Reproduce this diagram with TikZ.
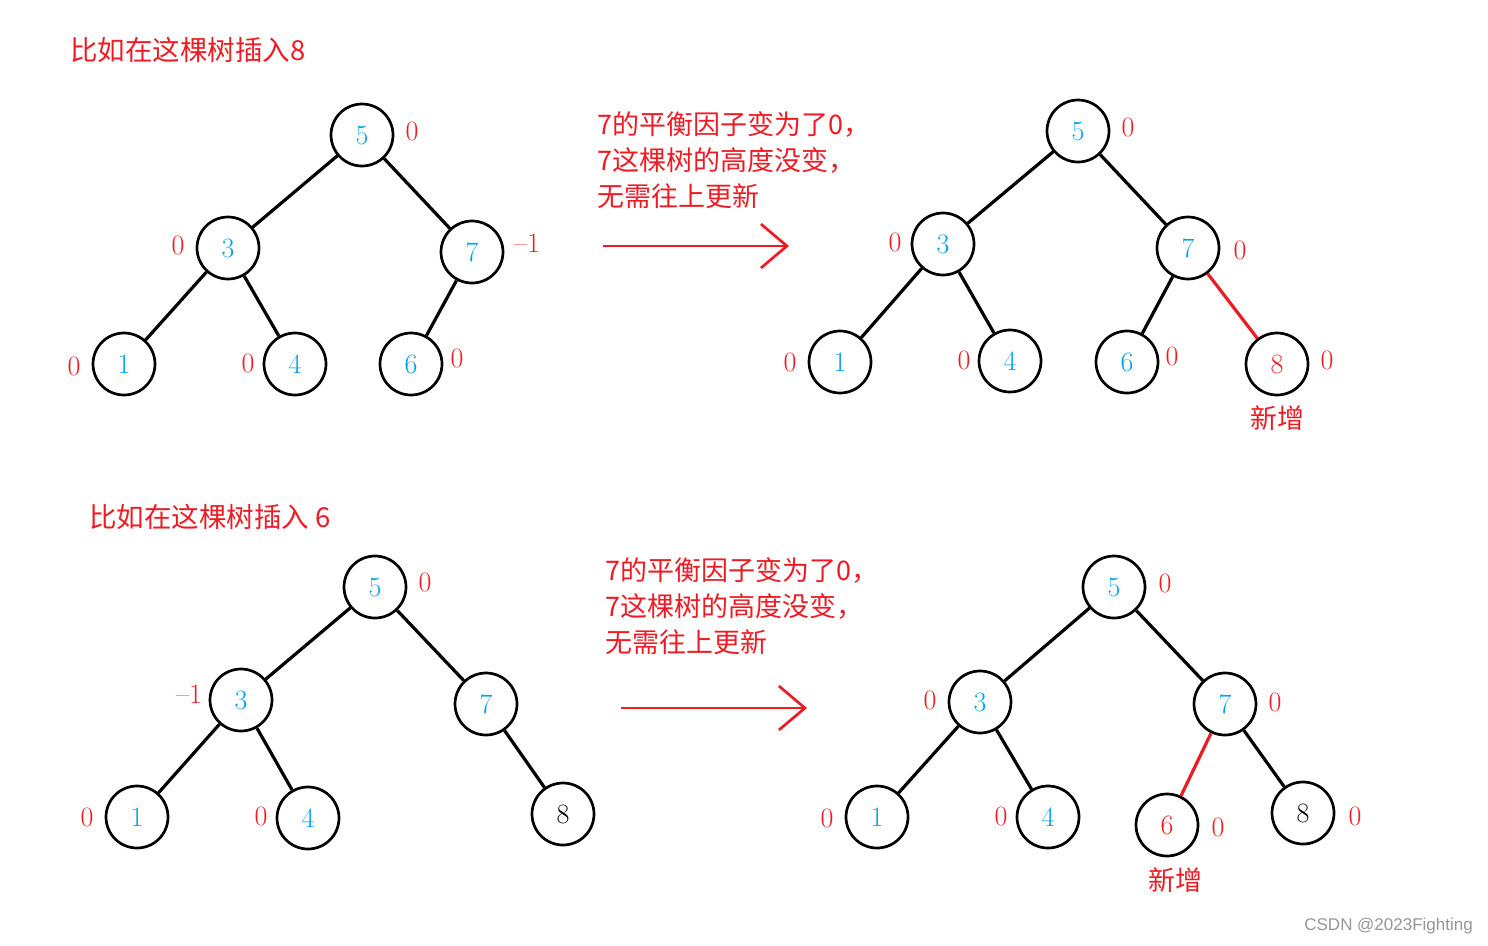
\documentclass[tikz,border=0pt]{standalone}
\usepackage{fontspec}
\newfontfamily\cjk{Noto Sans CJK SC}
\newfontfamily\wmfont{Liberation Sans}
\definecolor{PaintRed}{RGB}{237, 28, 36}
\definecolor{PaintBlue}{RGB}{0, 162, 232}
\definecolor{MarkGray}{RGB}{150, 150, 150}
\usetikzlibrary{arrows.meta, positioning}

\begin{document}
\begin{tikzpicture}[
            x=1pt, y=-1pt,
            tnode/.style={circle, draw=black, line width=2.7pt, minimum size=62pt, inner sep=0pt,
                          text=PaintBlue, font=\fontsize{28}{28}\selectfont},
            bf/.style={inner sep=0pt, text=PaintRed, font=\fontsize{28}{28}\selectfont},
            edge/.style={line width=3.2pt, black},
            newedge/.style={line width=3.2pt, PaintRed},
            note/.style={inner sep=0pt, align=left, text=PaintRed, font=\cjk\fontsize{27}{36}\selectfont},
            heading/.style={inner sep=0pt, text=PaintRed, font=\cjk\fontsize{27.5}{30}\selectfont},
            arrow/.style={-{Straight Barb[length=26pt, width=44pt]}, line width=2.7pt, PaintRed}
        ]
            \useasboundingbox (0,0) rectangle (1488,945);

            % insert 8
            \node[heading, anchor=base west] (title1) at (70,60) {比如在这棵树插入8};

            \node[tnode] (a5) at (362,135) {5};
            \node[tnode] (a3) at (228,248) {3};
            \node[tnode] (a7) at (472,252) {7};
            \node[tnode] (a1) at (124,364) {1};
            \node[tnode] (a4) at (295,364) {4};
            \node[tnode] (a6) at (411,364) {6};
            \node[bf] (fa5) at (412,131) {0};
            \node[bf] (fa3) at (178,245) {0};
            \node[bf] (fa7) at (527,243) {--1};
            \node[bf] (fa1) at (74,366) {0};
            \node[bf] (fa4) at (248,363) {0};
            \node[bf] (fa6) at (457,358) {0};
            \draw[edge] (a5) -- (a3);
            \draw[edge] (a5) -- (a7);
            \draw[edge] (a3) -- (a1);
            \draw[edge] (a3) -- (a4);
            \draw[edge] (a7) -- (a6);

            \node[note, anchor=north west] (note1) at (597,111) {7的平衡因子变为了0，\\7这棵树的高度没变，\\无需往上更新};
            \coordinate (s1) at (603,246);
            \coordinate (e1) at (789,246);
            \draw[arrow] (s1) -- (e1);

            \node[tnode] (b5) at (1078,131) {5};
            \node[tnode] (b3) at (943,244) {3};
            \node[tnode] (b7) at (1188,248) {7};
            \node[tnode] (b1) at (840,362) {1};
            \node[tnode] (b4) at (1010,361) {4};
            \node[tnode] (b6) at (1127,362) {6};
            \node[tnode, text=PaintRed] (b8) at (1277,364) {8};
            \node[bf] (fb5) at (1128,127) {0};
            \node[bf] (fb3) at (895,242) {0};
            \node[bf] (fb7) at (1240,250) {0};
            \node[bf] (fb1) at (790,362) {0};
            \node[bf] (fb4) at (964,360) {0};
            \node[bf] (fb6) at (1172,356) {0};
            \node[bf] (fb8) at (1327,360) {0};
            \node[note] (new1) at (1277,418) {新增};
            \draw[edge] (b5) -- (b3);
            \draw[edge] (b5) -- (b7);
            \draw[edge] (b3) -- (b1);
            \draw[edge] (b3) -- (b4);
            \draw[edge] (b7) -- (b6);
            \draw[newedge] (b7) -- (b8);

            % insert 6
            \node[heading, anchor=base west] (title2) at (89,527) {比如在这棵树插入 6};

            \node[tnode] (c5) at (375,587) {5};
            \node[tnode] (c3) at (241,700) {3};
            \node[tnode] (c7) at (486,704) {7};
            \node[tnode] (c1) at (137,817) {1};
            \node[tnode] (c4) at (308,818) {4};
            \node[tnode, text=black] (c8) at (563,814) {8};
            \node[bf] (fc5) at (425,582) {0};
            \node[bf] (fc3) at (189,694) {--1};
            \node[bf] (fc1) at (87,817) {0};
            \node[bf] (fc4) at (261,816) {0};
            \draw[edge] (c5) -- (c3);
            \draw[edge] (c5) -- (c7);
            \draw[edge] (c3) -- (c1);
            \draw[edge] (c3) -- (c4);
            \draw[edge] (c7) -- (c8);

            \node[note, anchor=north west] (note2) at (605,557) {7的平衡因子变为了0，\\7这棵树的高度没变，\\无需往上更新};
            \coordinate (s2) at (621,708);
            \coordinate (e2) at (807,708);
            \draw[arrow] (s2) -- (e2);

            \node[tnode] (d5) at (1114,587) {5};
            \node[tnode] (d3) at (980,702) {3};
            \node[tnode] (d7) at (1225,704) {7};
            \node[tnode] (d1) at (877,817) {1};
            \node[tnode] (d4) at (1048,817) {4};
            \node[tnode, text=PaintRed] (d6) at (1167,825) {6};
            \node[tnode, text=black] (d8) at (1303,813) {8};
            \node[bf] (fd5) at (1165,583) {0};
            \node[bf] (fd3) at (930,700) {0};
            \node[bf] (fd7) at (1275,702) {0};
            \node[bf] (fd1) at (827,818) {0};
            \node[bf] (fd4) at (1001,816) {0};
            \node[bf] (fd6) at (1218,827) {0};
            \node[bf] (fd8) at (1355,816) {0};
            \node[note] (new2) at (1175,880) {新增};
            \draw[edge] (d5) -- (d3);
            \draw[edge] (d5) -- (d7);
            \draw[edge] (d3) -- (d1);
            \draw[edge] (d3) -- (d4);
            \draw[newedge] (d7) -- (d6);
            \draw[edge] (d7) -- (d8);

            \node[anchor=east, inner sep=0pt, text=MarkGray, font=\wmfont\fontsize{17}{17}\selectfont] (mark) at (1473,926) {CSDN @2023Fighting};
        \end{tikzpicture}
\end{document}
